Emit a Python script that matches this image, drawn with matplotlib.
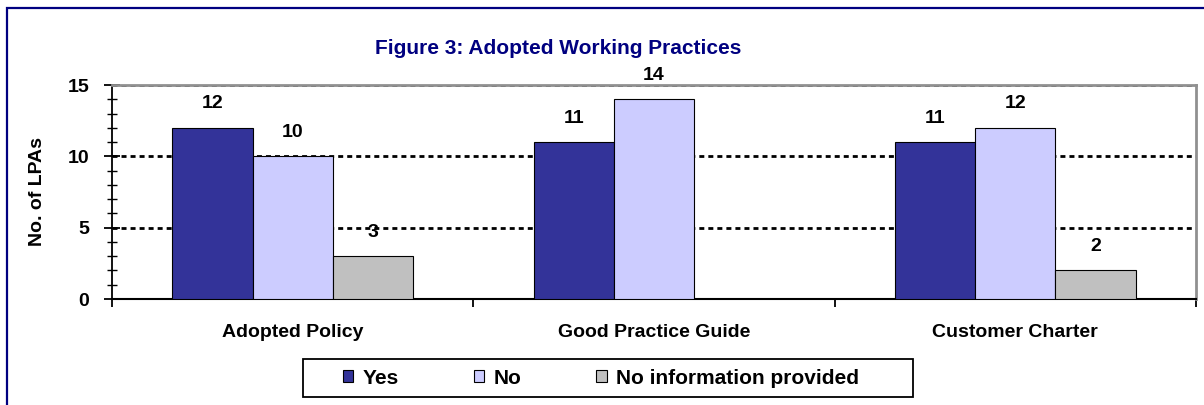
import matplotlib
matplotlib.use("Agg")
import matplotlib.pyplot as plt
from matplotlib.patches import Rectangle
from matplotlib.ticker import MultipleLocator, FixedLocator

categories = ["Adopted Policy", "Good Practice Guide", "Customer Charter"]
series_names = ["Yes", "No", "No information provided"]
yes_vals = [12, 11, 11]
no_vals = [10, 14, 12]
noinfo_vals = [3, 0, 2]
colors = ["#333399", "#CCCCFF", "#C0C0C0"]

plt.rcParams["font.family"] = ["Liberation Sans", "DejaVu Sans"]
plt.rcParams["font.weight"] = "bold"

W, H = 1204, 405
fig = plt.figure(figsize=(W / 100, H / 100), dpi=100)
ax = fig.add_axes([112 / W, 106 / H, 1084 / W, 214 / H])

bar_w = 0.222
offsets = [-bar_w, 0, bar_w]
all_vals = [yes_vals, no_vals, noinfo_vals]
for k, (name, vals) in enumerate(zip(series_names, all_vals)):
    xs = [i + offsets[k] for i, v in enumerate(vals) if v > 0]
    hs = [v for v in vals if v > 0]
    ax.bar(xs, hs, width=bar_w, color=colors[k], edgecolor="black",
           linewidth=0.8, label=name, zorder=3)
    for x, h in zip(xs, hs):
        ax.annotate(str(h), (x, h), xytext=(0, 14), textcoords="offset points",
                    ha="center", va="baseline", fontsize=14, fontweight="bold")

ax.set_xlim(-0.5, 2.5)
ax.set_ylim(0, 15)

# dashed gridlines
for y in [5, 10, 15]:
    ax.axhline(y, color="black", lw=2, linestyle=(0, (1.8, 1.45)), zorder=2)

ax.yaxis.set_major_locator(MultipleLocator(5))
ax.yaxis.set_minor_locator(MultipleLocator(1))
ax.tick_params(axis="y", which="major", direction="inout", length=11, width=1.3,
               labelsize=14, pad=11)
ax.tick_params(axis="y", which="minor", direction="inout", length=7, width=1.0)

ax.set_xticks(range(len(categories)))
ax.set_xticklabels(categories, fontsize=14, fontweight="bold")
ax.xaxis.set_minor_locator(FixedLocator([-0.5, 0.5, 1.5, 2.5]))
ax.tick_params(axis="x", which="major", length=0, pad=18)
ax.tick_params(axis="x", which="minor", direction="out", length=6, width=1.3)

for lbl in ax.get_yticklabels():
    lbl.set_fontweight("bold")

ax.spines["left"].set_color("black")
ax.spines["left"].set_linewidth(1.3)
ax.spines["bottom"].set_color("black")
ax.spines["bottom"].set_linewidth(1.5)
ax.spines["top"].set_color("#909090")
ax.spines["top"].set_linewidth(2)
ax.spines["right"].set_color("#909090")
ax.spines["right"].set_linewidth(2)

ax.set_ylabel("No. of LPAs", fontsize=14, fontweight="bold")
ax.yaxis.set_label_coords(-(112 - 46) / 1084, 0.5)

fig.text(558 / W, 1 - 48 / H, "Figure 3: Adopted Working Practices",
         ha="center", va="center", fontsize=15, fontweight="bold", color="#000080")

leg = fig.legend(loc="center left", bbox_to_anchor=(326 / W, 1 - 378 / H), ncol=3,
                 fontsize=15, frameon=False, handlelength=0.5,
                 handleheight=0.5, handletextpad=0.45, columnspacing=3.6,
                 borderpad=0.3)
for t in leg.get_texts():
    t.set_fontweight("bold")
for h in leg.legend_handles:
    h.set_linewidth(0.8)

# legend frame
fig.add_artist(Rectangle((303 / W, 1 - 397 / H), 610 / W, 38 / H,
                         transform=fig.transFigure, fill=False,
                         edgecolor="black", linewidth=1.3))

# outer chart border (only left/top visible)
fig.add_artist(Rectangle((7 / W, -0.5), 2, 0.5 + 1 - 8 / H,
                         transform=fig.transFigure, fill=False,
                         edgecolor="#000080", linewidth=1.6, clip_on=False))

fig.savefig("out.png", dpi=100)
